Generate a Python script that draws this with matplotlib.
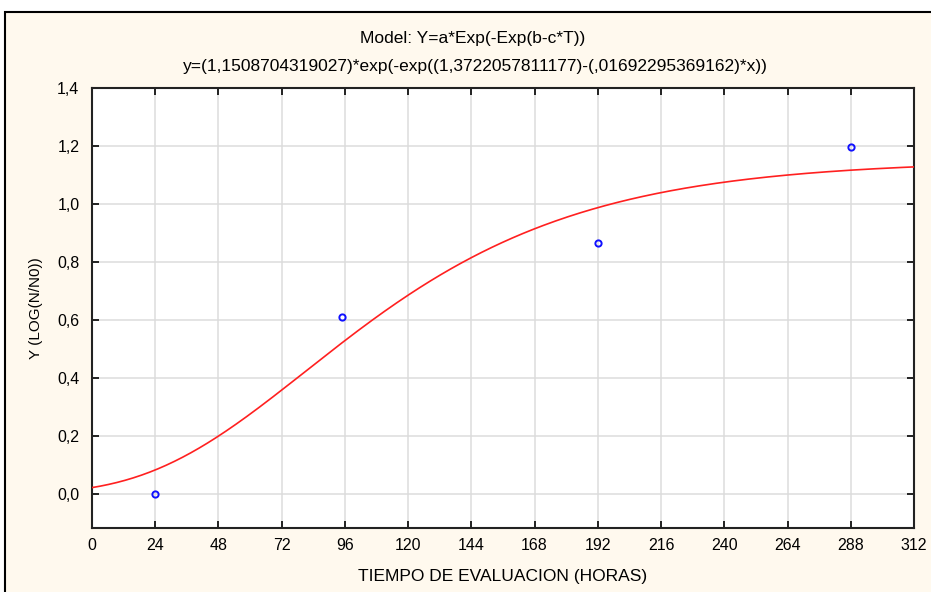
import matplotlib
matplotlib.use("Agg")
import matplotlib.pyplot as plt
import numpy as np
from matplotlib.patches import Rectangle
from matplotlib.ticker import FuncFormatter

plt.rcParams.update({"font.family": ["Liberation Sans", "DejaVu Sans"], "font.size": 11})

CREAM = "#fff9ee"

# observed points
horas = [24, 95, 192, 288]
log_nn0 = [0.0, 0.61, 0.866, 1.197]

# Gompertz fit parameters
a = 1.1508704319027
b = 1.3722057811177
c = 0.01692295369162

x_ticks = list(range(0, 313, 24))
y_ticks = [0.0, 0.2, 0.4, 0.6, 0.8, 1.0, 1.2, 1.4]

W, H = 931, 592
fig = plt.figure(figsize=(W / 100, H / 100), dpi=100, facecolor="white")
fig.patches.append(Rectangle((5 / W, -0.05), 1.1, 1.05 - 12 / H, transform=fig.transFigure,
                             facecolor=CREAM, edgecolor="black", lw=1.5, zorder=-10))

ax = fig.add_axes([92 / W, 1 - 528 / H, (914 - 92) / W, (528 - 88) / H])
ax.set_facecolor("white")

t = np.linspace(0, 312, 400)
ax.plot(t, a * np.exp(-np.exp(b - c * t)), color="#ff2020", lw=1.2, zorder=3)
ax.plot(horas, log_nn0, "o", ms=4.5, mfc="none", mec="#1010ff", mew=1.4, zorder=4)

ax.set_xlim(0, 312)
ax.set_ylim(-0.117, 1.4)
ax.set_xticks(x_ticks)
ax.set_yticks(y_ticks)
ax.yaxis.set_major_formatter(FuncFormatter(lambda v, p: f"{v:.1f}".replace(".", ",")))
ax.grid(True, color="#dcdcdc", lw=1.1)
ax.set_axisbelow(True)
ax.tick_params(direction="in", length=5, width=1.2, top=True, right=True,
               labelsize=11.5, colors="black", pad=7)
ax.tick_params(axis="y", pad=9)
for s in ax.spines.values():
    s.set_linewidth(1.5)
    s.set_color("#222222")

ax.set_xlabel("TIEMPO DE EVALUACION (HORAS)", fontsize=12.5, labelpad=12)
ax.set_ylabel("Y (LOG(N/N0))", fontsize=11, labelpad=10)

fig.text(473 / W, 1 - 38 / H, "Model: Y=a*Exp(-Exp(b-c*T))", ha="center", va="center", fontsize=12.5)
fig.text(475 / W, 1 - 67 / H,
         "y=(1,1508704319027)*exp(-exp((1,3722057811177)-(,01692295369162)*x))",
         ha="center", va="center", fontsize=12.5)

fig.savefig("out.png", dpi=100, facecolor=fig.get_facecolor())
